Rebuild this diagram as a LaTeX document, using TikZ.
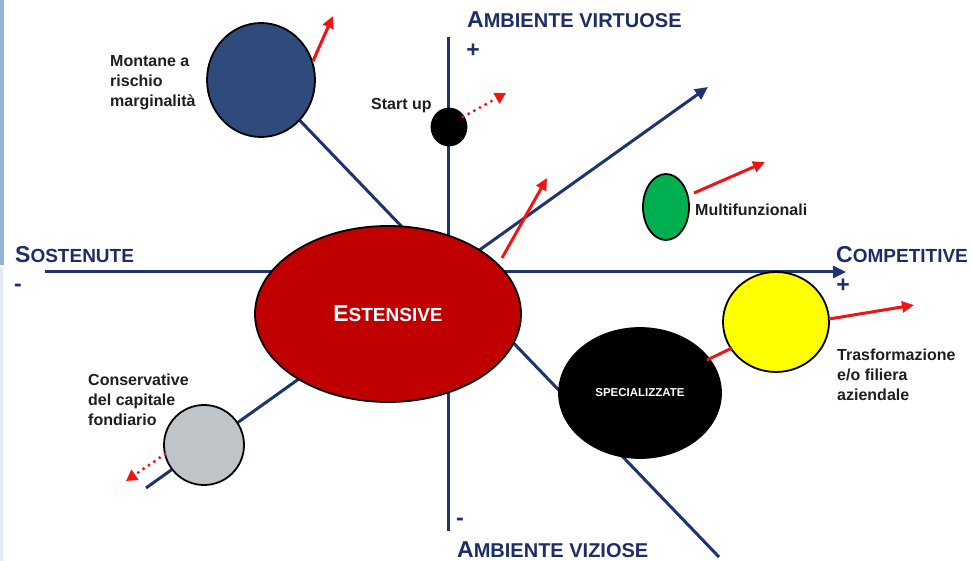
\documentclass[tikz,border=0pt]{standalone}
\usepackage{fontspec}
\setmainfont{Liberation Sans}
\usetikzlibrary{arrows.meta,shapes.geometric}
\pgfdeclarelayer{background}
\pgfsetlayers{background,main}
\definecolor{navy}{RGB}{31,52,110}
\definecolor{titlenavy}{RGB}{28,46,100}
\definecolor{estred}{RGB}{192,0,0}
\definecolor{arrred}{RGB}{240,20,20}
\definecolor{monblue}{RGB}{47,75,124}
\definecolor{mfgreen}{RGB}{0,176,80}
\definecolor{ylw}{RGB}{255,255,0}
\definecolor{gry}{RGB}{191,196,201}
\definecolor{barblue}{RGB}{149,179,215}
\definecolor{barpale}{RGB}{226,234,245}
\definecolor{lbl}{RGB}{30,30,30}
\newcommand{\mysc}[3][19]{{\fontsize{23}{23}\selectfont #2}{\fontsize{#1}{#1}\selectfont #3}}
\newcommand{\mylines}[1]{\vtop{\baselineskip=20pt #1}}
\begin{document}
\begin{tikzpicture}[x=1pt,y=-1pt,
  axis/.style={draw=navy, line width=3pt},
  axarrow/.style={axis, -{Triangle[length=13pt,width=12pt]}},
  redarr/.style={draw=arrred, line width=3pt, -{Triangle[length=12pt,width=11pt]}},
  redline/.style={draw=arrred, line width=3pt},
  dotarr/.style={draw=arrred, line width=3.4pt, dash pattern=on 0pt off 6.5pt, line cap=round, -{Triangle[length=11pt,width=12pt]}},
  blob/.style={ellipse, draw=black, line width=1.8pt, inner sep=0pt},
  title/.style={text=titlenavy, font=\bfseries, inner sep=0pt},
  sign/.style={title, font=\bfseries\fontsize{23}{23}\selectfont},
  lab/.style={text=lbl, font=\bfseries\fontsize{16}{20}\selectfont, inner sep=0pt, anchor=base west}
]
\useasboundingbox (0,0) rectangle (972,561);
% left bar
\fill[barblue] (0,0) rectangle (4,265);
\fill[barpale] (0,268) rectangle (3,561);

% nodes
\node[blob, fill=estred, minimum width=266pt, minimum height=176pt, text=white, font=\bfseries] (est) at (388,314) {\mysc{E}{STENSIVE}};
\node[blob, fill=monblue, minimum width=108pt, minimum height=114pt] (mon) at (261,80) {};
\node[blob, fill=black, minimum width=35pt, minimum height=37pt] (start) at (449,127) {};
\node[blob, fill=mfgreen, minimum width=46pt, minimum height=66pt] (mf) at (666,207) {};
\node[blob, fill=black, minimum width=162pt, minimum height=130pt, text=white, font=\bfseries\fontsize{11.5}{12}\selectfont] (spec) at (640,393) {SPECIALIZZATE};
\node[blob, fill=ylw, minimum width=106pt, minimum height=100pt] (ylwc) at (776,322) {};
\node[blob, fill=gry, minimum width=80pt, minimum height=80pt] (cons) at (204,445) {};

% axis coordinates
\coordinate (hL) at (45,272);
\coordinate (hR) at (846,272);
\coordinate (vT) at (448,37);
\coordinate (vB) at (448,531);
\coordinate (d1s) at (146,488);
\coordinate (d1e) at (708,87);
\coordinate (d2e) at (719,557);

\begin{pgfonlayer}{background}
\draw[axarrow] (hL) -- (hR);
\draw[axis] (vT) -- (vB);
\draw[axarrow] (d1s) -- (d1e);
\draw[axis] (mon.center) -- (d2e);
\end{pgfonlayer}

% red arrows
\coordinate (a1s) at (313,61);
\coordinate (a1e) at (333,16);
\draw[redarr] (a1s) -- (a1e);
\coordinate (a2s) at (502,258);
\coordinate (a2e) at (547,178);
\draw[redarr] (a2s) -- (a2e);
\coordinate (a3s) at (694,193);
\coordinate (a3e) at (765,162);
\draw[redarr] (a3s) -- (a3e);
\coordinate (a4s) at (707,360);
\coordinate (a4m) at (732,348);
\draw[redline] (a4s) -- (a4m);
\coordinate (a5s) at (829,319);
\coordinate (a5e) at (914,305);
\draw[redarr] (a5s) -- (a5e);
\coordinate (a6s) at (463,117);
\coordinate (a6e) at (506,93);
\draw[dotarr] (a6s) -- (a6e);
\coordinate (a7s) at (165,454);
\coordinate (a7e) at (126,481);
\draw[dotarr] (a7s) -- (a7e);

% titles
\node[title, anchor=base west] (tv) at (467,28) {\mysc[20]{A}{MBIENTE VIRTUOSE}};
\node[sign] (tvp) at (473,51) {+};
\node[title, anchor=base west] (ts) at (15,263) {\mysc{S}{OSTENUTE}};
\node[sign] (tsm) at (18,288) {-};
\node[title, anchor=base west] (tc) at (836,263) {\mysc{C}{OMPETITIVE}};
\node[sign] (tcp) at (843,286) {+};
\node[sign] (tzm) at (460,522) {-};
\node[title, anchor=base west] (tz) at (457,557) {\mysc[20]{A}{MBIENTE VIZIOSE}};

% labels
\node[lab] (lmon) at (110,67) {\mylines{\hbox{Montane a}\hbox{rischio}\hbox{marginalità}}};
\node[lab] (lstart) at (371,110) {Start up};
\node[lab] (lmf) at (695,216) {Multifunzionali};
\node[lab] (ltr) at (837,360) {\mylines{\hbox{Trasformazione}\hbox{e/o filiera}\hbox{aziendale}}};
\node[lab] (lcons) at (88,385) {\mylines{\hbox{Conservative}\hbox{del capitale}\hbox{fondiario}}};
\end{tikzpicture}
\end{document}
